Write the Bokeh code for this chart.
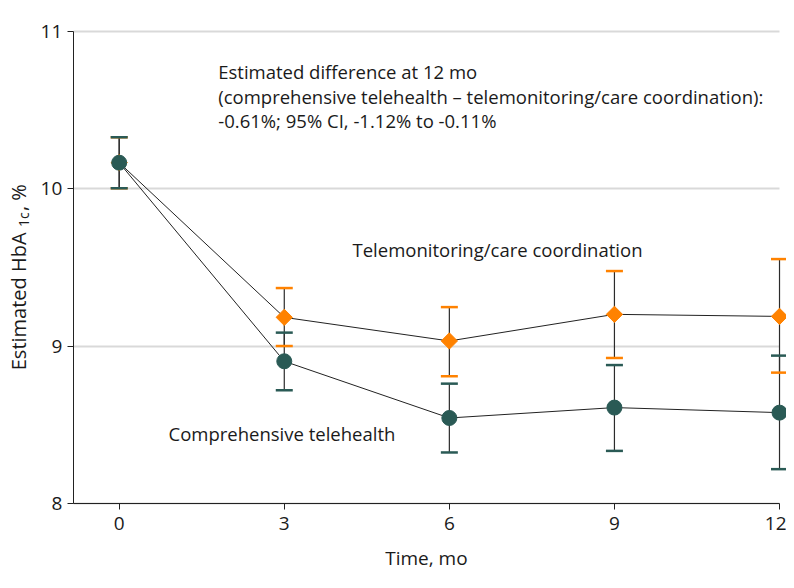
from math import pi
from bokeh.plotting import figure
from bokeh.models import Label, Range1d, FixedTicker
from bokeh.embed import file_html
from bokeh.resources import INLINE

months = [0, 3, 6, 9, 12]
tick_months = [0, 3, 6, 9, 12]
y_ticks = [8, 9, 10, 11]

# Comprehensive telehealth
ct_est = [10.164, 8.903, 8.543, 8.609, 8.577]
ct_lo = [10.001, 8.719, 8.324, 8.334, 8.218]
ct_hi = [10.326, 9.085, 8.761, 8.879, 8.939]

# Telemonitoring/care coordination
tm_est = [10.164, 9.182, 9.032, 9.201, 9.188]
tm_lo = [10.001, 9.000, 8.808, 8.924, 8.831]
tm_hi = [10.326, 9.368, 9.247, 9.476, 9.552]

TEAL = "#2a5a55"
ORANGE = "#ff8200"
FONT = "Open Sans"
TXT = "#1a1a1a"

X_AXIS_AT = -0.834   # y axis position on the month scale
Y_AXIS_AT = 8        # x axis position on the HbA1c scale

p = figure(width=786, height=580, output_backend="svg", toolbar_location=None,
           x_range=Range1d(-2.157, 12.127), y_range=Range1d(7.511, 11.194),
           min_border_left=0, min_border_right=0, min_border_top=0, min_border_bottom=0)
p.outline_line_color = None
p.background_fill_color = "white"
p.border_fill_color = "white"

p.xgrid.grid_line_color = None
g = p.ygrid[0]
g.grid_line_color = "#d9d9d9"
g.grid_line_width = 2
g.ticker = FixedTicker(ticks=y_ticks)
if "cross_bounds" in g.properties():
    g.cross_bounds = (X_AXIS_AT, 12)
else:
    p.quad(left=-2.157, right=X_AXIS_AT, bottom=7.511, top=11.194,
           fill_color="white", line_color=None, level="underlay")

xa = p.xaxis[0]
ya = p.yaxis[0]
xa.ticker = FixedTicker(ticks=tick_months)
xa.bounds = (X_AXIS_AT, 12)
xa.fixed_location = Y_AXIS_AT
ya.ticker = FixedTicker(ticks=y_ticks)
ya.bounds = (8, 11)
ya.fixed_location = X_AXIS_AT
for ax in (xa, ya):
    ax.axis_line_color = "#222222"
    ax.axis_line_width = 1
    ax.major_tick_line_color = "#222222"
    ax.major_tick_out = 6
    ax.major_tick_in = 0
    ax.minor_tick_line_color = None
    ax.major_label_text_font = FONT
    ax.major_label_text_font_size = "19px"
    ax.major_label_text_color = TXT
xa.major_label_standoff = 8
ya.major_label_standoff = 5

# connecting lines
p.line(months, tm_est, line_color="#222222", line_width=1)
p.line(months, ct_est, line_color="#222222", line_width=1)

# error bar stems
p.segment(x0=months, y0=tm_lo, x1=months, y1=tm_hi, line_color="#2b2b2b", line_width=1.2)
p.segment(x0=months, y0=ct_lo, x1=months, y1=ct_hi, line_color="#2b2b2b", line_width=1.2)

# caps
p.scatter(months, tm_lo, marker="dash", size=17, line_color=ORANGE, line_width=2.5)
p.scatter(months, tm_hi, marker="dash", size=17, line_color=ORANGE, line_width=2.5)
p.scatter(months, ct_lo, marker="dash", size=17, line_color=TEAL, line_width=2.5)
p.scatter(months, ct_hi, marker="dash", size=17, line_color=TEAL, line_width=2.5)

# markers
p.scatter(months, tm_est, marker="square", angle=pi / 4, size=11.5,
          fill_color=ORANGE, line_color=ORANGE)
p.scatter(months, ct_est, marker="circle", size=15, fill_color=TEAL, line_color=TEAL)

def add_label(text, x, y, size="18.5px", angle=0, align="left"):
    p.add_layout(Label(x=x, y=y, text=text, text_font=FONT, text_font_size=size,
                       text_color=TXT, text_baseline="alphabetic", text_align=align,
                       angle=angle))

add_label("Estimated difference at 12 mo", 1.80, 10.741)
add_label("(comprehensive telehealth \u2013 telemonitoring/care coordination):", 1.80, 10.586)
add_label("-0.61%; 95% CI, -1.12% to -0.11%", 1.80, 10.434)
add_label("Telemonitoring/care coordination", 4.24, 9.613)
add_label("Comprehensive telehealth", 0.896, 8.446)

# axis titles
add_label("Time, mo", (X_AXIS_AT + 12) / 2, 7.653, "19px", align="center")
add_label("Estimated HbA", -1.821, 8.846, "20px", pi / 2)
add_label("1c", -1.740, 9.755, "14px", pi / 2)
add_label(", %", -1.821, 9.857, "20px", pi / 2)

open("out.html", "w").write(file_html(p, INLINE))
